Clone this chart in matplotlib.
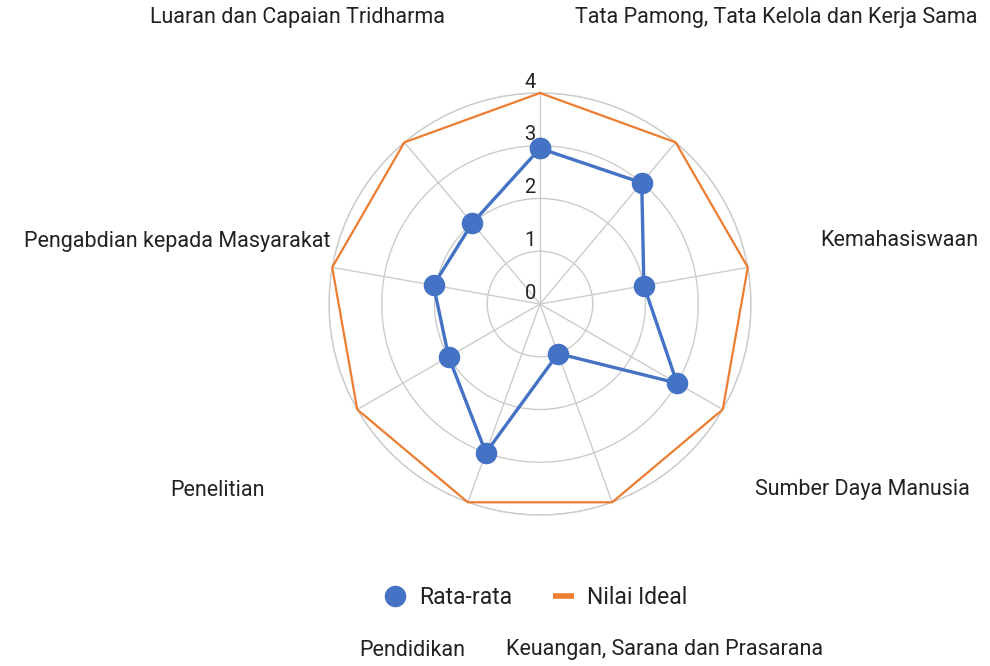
import numpy as np
import matplotlib
matplotlib.use("Agg")
import matplotlib.pyplot as plt
from matplotlib.lines import Line2D

plt.rcParams['font.family'] = ['Roboto', 'DejaVu Sans']

# ---- data ----
categories = ["", "Tata Pamong, Tata Kelola dan Kerja Sama", "Kemahasiswaan",
              "Sumber Daya Manusia", "Keuangan, Sarana dan Prasarana", "Pendidikan",
              "Penelitian", "Pengabdian kepada Masyarakat", "Luaran dan Capaian Tridharma"]
rata_rata = [2.95, 3.0, 2.0, 3.0, 1.0, 3.0, 2.0, 2.05, 2.0]
nilai_ideal = [4, 4, 4, 4, 4, 4, 4, 4, 4]
r_ticks = [0, 1, 2, 3, 4]
series_names = ["Rata-rata", "Nilai Ideal"]

# label positions in pixels (x, center y, alignment) — layout only
label_pos = {
    "Luaran dan Capaian Tridharma": (297, 18, 'center'),
    "Tata Pamong, Tata Kelola dan Kerja Sama": (776, 18, 'center'),
    "Pengabdian kepada Masyarakat": (331, 241, 'right'),
    "Kemahasiswaan": (978, 241, 'right'),
    "Penelitian": (218, 490, 'center'),
    "Sumber Daya Manusia": (970, 490, 'right'),
    "Pendidikan": (412, 650, 'center'),
    "Keuangan, Sarana dan Prasarana": (665, 650, 'center'),
}

W, H = 990, 666
fig = plt.figure(figsize=(W / 100, H / 100), dpi=100)
cx, cy, R = 540, 304, 211
ax = fig.add_axes([(cx - R) / W, 1 - (cy + R) / H, 2 * R / W, 2 * R / H], projection='polar')
ax.set_theta_offset(np.pi / 2)
ax.set_theta_direction(-1)

n = len(categories)
angles = np.arange(n) * 2 * np.pi / n
ang_c = np.concatenate([angles, angles[:1]])

BLUE = '#4472C4'
ORANGE = '#ED7D31'
GRID = '#cccccc'
TXT = '#222222'

ideal_c = nilai_ideal + nilai_ideal[:1]
rata_c = rata_rata + rata_rata[:1]
ax.plot(ang_c, ideal_c, color=ORANGE, lw=1.6, zorder=3, clip_on=False)
ax.plot(ang_c, rata_c, color=BLUE, lw=2.4, zorder=4, marker='o', markersize=15.5,
        markeredgewidth=0, clip_on=False)

ax.set_ylim(0, 4)
ax.set_yticks(r_ticks[1:])
ax.set_yticklabels([])
ax.set_xticks(angles)
ax.set_xticklabels([])
ax.grid(True, color=GRID, lw=1)
ax.spines['polar'].set_color(GRID)
ax.spines['polar'].set_linewidth(1)
ax.set_facecolor('white')

for v in r_ticks:
    ax.annotate(str(v), xy=(0, v), xytext=(-3, 1), textcoords='offset points',
                ha='right', va='bottom', fontsize=14.5, color=TXT, zorder=5)

for name in categories:
    if name in label_pos:
        x, y, ha = label_pos[name]
        fig.text(x / W, 1 - y / H, name, ha=ha, va='center', fontsize=15.5, color=TXT)

handles = [Line2D([], [], color=BLUE, marker='o', markersize=15.5, lw=0, markeredgewidth=0),
           Line2D([], [], color=ORANGE, lw=4, solid_capstyle='butt')]
fig.legend(handles, series_names, loc='center', bbox_to_anchor=(536 / W, 1 - 598 / H),
           ncol=2, frameon=False, fontsize=16.5, handlelength=0.9, columnspacing=1.8,
           handletextpad=0.6, labelcolor=TXT)

fig.savefig('out.png', dpi=100, facecolor='white')
